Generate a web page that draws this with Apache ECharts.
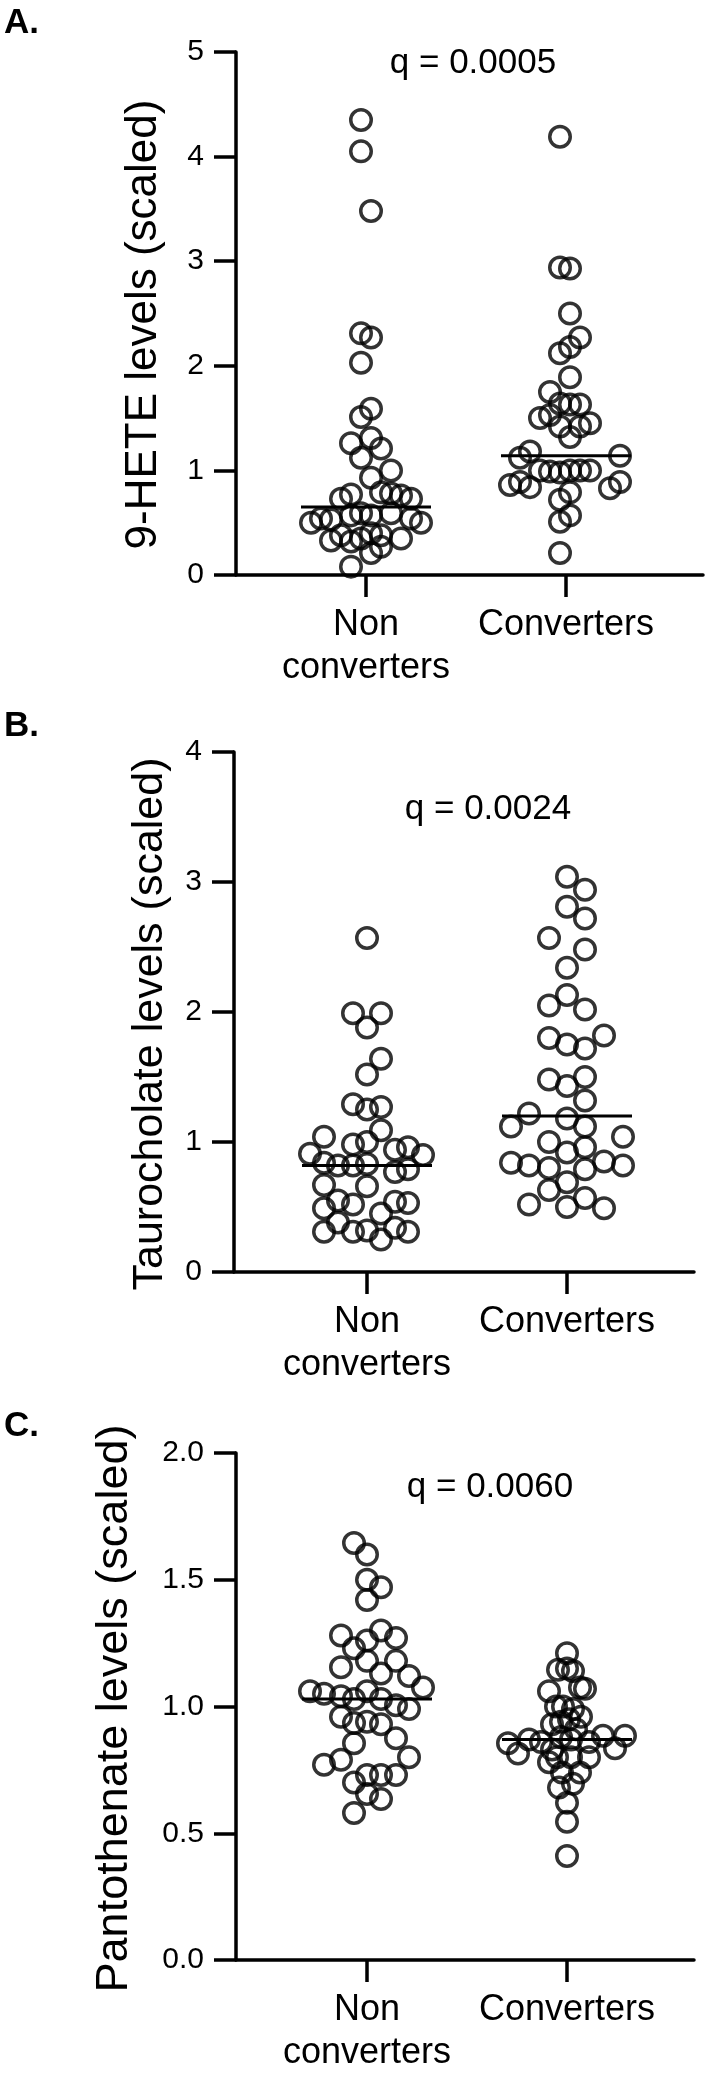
<!DOCTYPE html>
<html><head><meta charset="utf-8">
<script src="https://cdn.jsdelivr.net/npm/echarts@6/dist/echarts.min.js"></script>
<style>html,body{margin:0;padding:0;background:#fff}#c{width:705px;height:2075px}</style>
</head><body><div id="c"></div>
<script>
// ---------- data ----------
const categories = ['Non\nconverters', 'Converters'];
const panelLetters = ['A.', 'B.', 'C.'];
const yTitles = ['9-HETE levels (scaled)', 'Taurocholate levels (scaled)', 'Pantothenate levels (scaled)'];
const qLabels = ['q = 0.0005', 'q = 0.0024', 'q = 0.0060'];

const yTicksA = [0, 1, 2, 3, 4, 5];
const yTicksB = [0, 1, 2, 3, 4];
const yTicksC = [0, 0.5, 1.0, 1.5, 2.0];

// Panel A: 9-HETE
const heteNon = [4.35,4.05,3.48,2.31,2.27,2.03,1.59,1.51,1.31,1.26,1.21,1.12,1.00,0.93,0.79,0.78,0.77,0.76,0.73,0.73,0.59,0.59,0.57,0.57,0.54,0.54,0.53,0.50,0.50,0.40,0.38,0.38,0.35,0.35,0.33,0.32,0.27,0.21,0.08];
const heteNonJit = [-0.025,-0.025,0.025,-0.025,0.025,-0.025,0.025,-0.025,0.025,-0.075,0.075,-0.025,0.125,0.025,0.075,0.125,-0.075,0.175,-0.125,0.225,-0.025,0.125,-0.075,0.025,-0.225,0.225,-0.175,-0.275,0.275,0.025,-0.125,0.075,-0.025,0.175,-0.175,-0.075,0.075,0.025,-0.075];
const heteConv = [4.19,2.94,2.93,2.50,2.27,2.18,2.12,1.89,1.75,1.64,1.63,1.63,1.53,1.50,1.45,1.42,1.42,1.32,1.18,1.14,1.12,1.00,1.00,1.00,1.00,0.99,0.98,0.89,0.89,0.86,0.84,0.83,0.79,0.72,0.57,0.51,0.21];
const heteConvJit = [-0.03,-0.03,0.02,0.02,0.07,0.02,-0.03,0.02,-0.08,-0.03,0.02,0.07,-0.08,-0.13,0.12,-0.03,0.07,0.02,-0.18,0.27,-0.23,-0.13,0.02,0.07,0.12,-0.08,-0.03,-0.23,0.27,-0.28,-0.18,0.22,0.02,-0.03,0.02,-0.03,-0.03];
const heteMedian = [0.65, 1.14];

// Panel B: Taurocholate
const tauroNon = [2.57,1.99,1.99,1.88,1.64,1.52,1.29,1.25,1.27,1.09,1.04,0.98,1.00,0.91,0.94,0.96,0.90,0.84,0.82,0.82,0.83,0.77,0.79,0.67,0.66,0.55,0.52,0.49,0.54,0.53,0.45,0.31,0.38,0.31,0.32,0.25,0.34,0.31];
const tauroNonJit = [0,-0.07,0.07,0,0.07,0,-0.07,0,0.07,0.07,-0.215,-0.07,0,-0.285,0.14,0.205,0.28,-0.215,-0.145,-0.07,0,0.14,0.205,-0.215,0,-0.145,-0.07,-0.215,0.14,0.205,0.07,-0.215,-0.145,-0.07,0,0.07,0.14,0.205];
const tauroConv = [3.04,2.94,2.81,2.72,2.57,2.48,2.34,2.13,2.05,2.02,1.80,1.75,1.72,1.82,1.48,1.43,1.50,1.32,1.22,1.18,1.12,1.12,1.04,1.00,0.92,0.96,0.84,0.82,0.80,0.79,0.85,0.82,0.69,0.63,0.52,0.50,0.57,0.49];
const tauroConvJit = [0,0.09,0,0.09,-0.09,0.09,0,0,-0.09,0.09,-0.09,0,0.09,0.185,-0.09,0,0.09,0.09,-0.19,0,-0.28,0.09,0.28,-0.09,0,0.09,-0.28,-0.19,-0.09,0.09,0.185,0.28,0,-0.09,-0.19,0,0.09,0.185];
const tauroMedian = [0.82, 1.20];

// Panel C: Pantothenate
const pantoNon = [1.645,1.60,1.50,1.47,1.42,1.30,1.28,1.27,1.26,1.23,1.18,1.18,1.155,1.13,1.12,1.075,1.06,1.05,1.04,1.03,1.06,1.03,1.005,0.99,0.96,0.935,0.94,0.93,0.875,0.855,0.77,0.79,0.80,0.70,0.73,0.73,0.73,0.655,0.635,0.58];
const pantoNonJit = [-0.065,0,0,0.07,0,0.07,-0.13,0.145,0,-0.065,0,0.145,-0.13,0.07,0.21,0.28,-0.285,-0.215,-0.13,-0.065,0,0.07,0.145,0.21,-0.13,-0.065,0,0.07,0.145,-0.065,-0.215,-0.13,0.21,-0.065,0,0.07,0.145,0,0.07,-0.065];
const pantoConv = [1.21,1.145,1.15,1.14,1.06,1.075,1.07,1.00,1.00,0.99,0.93,0.94,0.95,0.96,0.855,0.815,0.87,0.86,0.83,0.87,0.86,0.885,0.835,0.885,0.88,0.91,0.80,0.80,0.80,0.78,0.74,0.74,0.68,0.695,0.62,0.545,0.41];
const pantoConvJit = [0,-0.045,0,0.03,-0.09,0.065,0.09,-0.055,-0.02,0.03,-0.075,-0.03,0.01,0.07,-0.295,-0.245,-0.19,-0.13,-0.075,0.02,0.11,0.18,0.24,0.29,-0.03,0.045,-0.05,0.02,0.11,-0.09,-0.025,0.065,-0.04,0.03,0,0,0];
const pantoMedian = [1.03, 0.87];

// ---------- layout / style ----------
const FONT = 'Liberation Sans, Arial, Helvetica, sans-serif';
const panels = [
  {non: heteNon, nonJ: heteNonJit, conv: heteConv, convJ: heteConvJit, med: heteMedian, ticks: yTicksA,
   grid: {left: 236, top: 52, width: 467, height: 523}, xmin: 0.35, xmax: 2.685,
   titleSize: 44, nameGap: 70, namePad: 22, dec: 0, letterY: 23, q: [473, 63]},
  {non: tauroNon, nonJ: tauroNonJit, conv: tauroConv, convJ: tauroConvJit, med: tauroMedian, ticks: yTicksB,
   grid: {left: 234, top: 752, width: 460, height: 520}, xmin: 0.335, xmax: 2.635,
   titleSize: 43, nameGap: 62, namePad: 24, dec: 0, letterY: 726, q: [488, 809]},
  {non: pantoNon, nonJ: pantoNonJit, conv: pantoConv, convJ: pantoConvJit, med: pantoMedian, ticks: yTicksC,
   grid: {left: 236, top: 1453, width: 458, height: 544}, xmin: 0.345, xmax: 2.635,
   titleSize: 45, nameGap: 99, namePad: 4, dec: 1, letterY: 1426, q: [490, 1487]}
];

const AXW = 3.5;
const grids = [], xAxes = [], yAxes = [], series = [], graphics = [];
const HALF = 0.325;
panels.forEach((p, i) => {
  grids.push(Object.assign({containLabel: false}, p.grid));
  xAxes.push({
    type: 'value', gridIndex: i, min: p.xmin, max: p.xmax,
    splitLine: {show: false},
    axisLine: {show: true, onZero: false, lineStyle: {color: '#000', width: AXW}},
    axisTick: {show: true, customValues: [1, 2], length: 22, lineStyle: {color: '#000', width: AXW}},
    axisLabel: {show: true, customValues: [1, 2], formatter: v => categories[Math.round(v) - 1],
      color: '#000', fontFamily: FONT, fontSize: 36, lineHeight: 43, margin: 29}
  });
  const t = p.ticks;
  yAxes.push({
    type: 'value', gridIndex: i, min: t[0], max: t[t.length - 1], interval: t[1] - t[0],
    name: yTitles[i], nameLocation: 'middle', nameGap: p.nameGap,
    nameTextStyle: {color: '#000', fontFamily: FONT, fontSize: p.titleSize, padding: [0, p.namePad, 0, 0]},
    splitLine: {show: false},
    axisLine: {show: true, lineStyle: {color: '#000', width: AXW}},
    axisTick: {show: true, length: 22, lineStyle: {color: '#000', width: AXW}},
    axisLabel: {color: '#000', fontFamily: FONT, fontSize: 30, margin: 32,
      formatter: v => v.toFixed(p.dec)}
  });
  const mk = (vals, jit, c) => vals.map((v, k) => [c + jit[k], v]);
  [[p.non, p.nonJ, 1], [p.conv, p.convJ, 2]].forEach(([vals, jit, c]) => {
    series.push({
      type: 'scatter', xAxisIndex: i, yAxisIndex: i, data: mk(vals, jit, c),
      symbol: 'circle', symbolSize: 20.5, silent: true,
      itemStyle: {color: 'rgba(0,0,0,0)', borderColor: '#000', borderWidth: 3.5}
    });
  });
  p.med.forEach((m, k) => {
    const c = k + 1;
    series.push({
      type: 'line', xAxisIndex: i, yAxisIndex: i, data: [[c - HALF, m], [c + HALF, m]],
      symbol: 'none', silent: true, z: 3, lineStyle: {color: '#000', width: 3}
    });
  });
  graphics.push({type: 'text', x: 4, y: p.letterY, silent: true,
    style: {text: panelLetters[i], font: 'bold 35px ' + FONT, fill: '#000', verticalAlign: 'middle', align: 'left'}});
  graphics.push({type: 'text', x: p.q[0], y: p.q[1], silent: true,
    style: {text: qLabels[i], font: '35px ' + FONT, fill: '#000', verticalAlign: 'middle', align: 'center'}});
});

const chart = echarts.init(document.getElementById('c'), null, {renderer: 'canvas'});
chart.setOption({
  animation: false, backgroundColor: '#fff',
  grid: grids, xAxis: xAxes, yAxis: yAxes, series: series, graphic: graphics
});
</script></body></html>
